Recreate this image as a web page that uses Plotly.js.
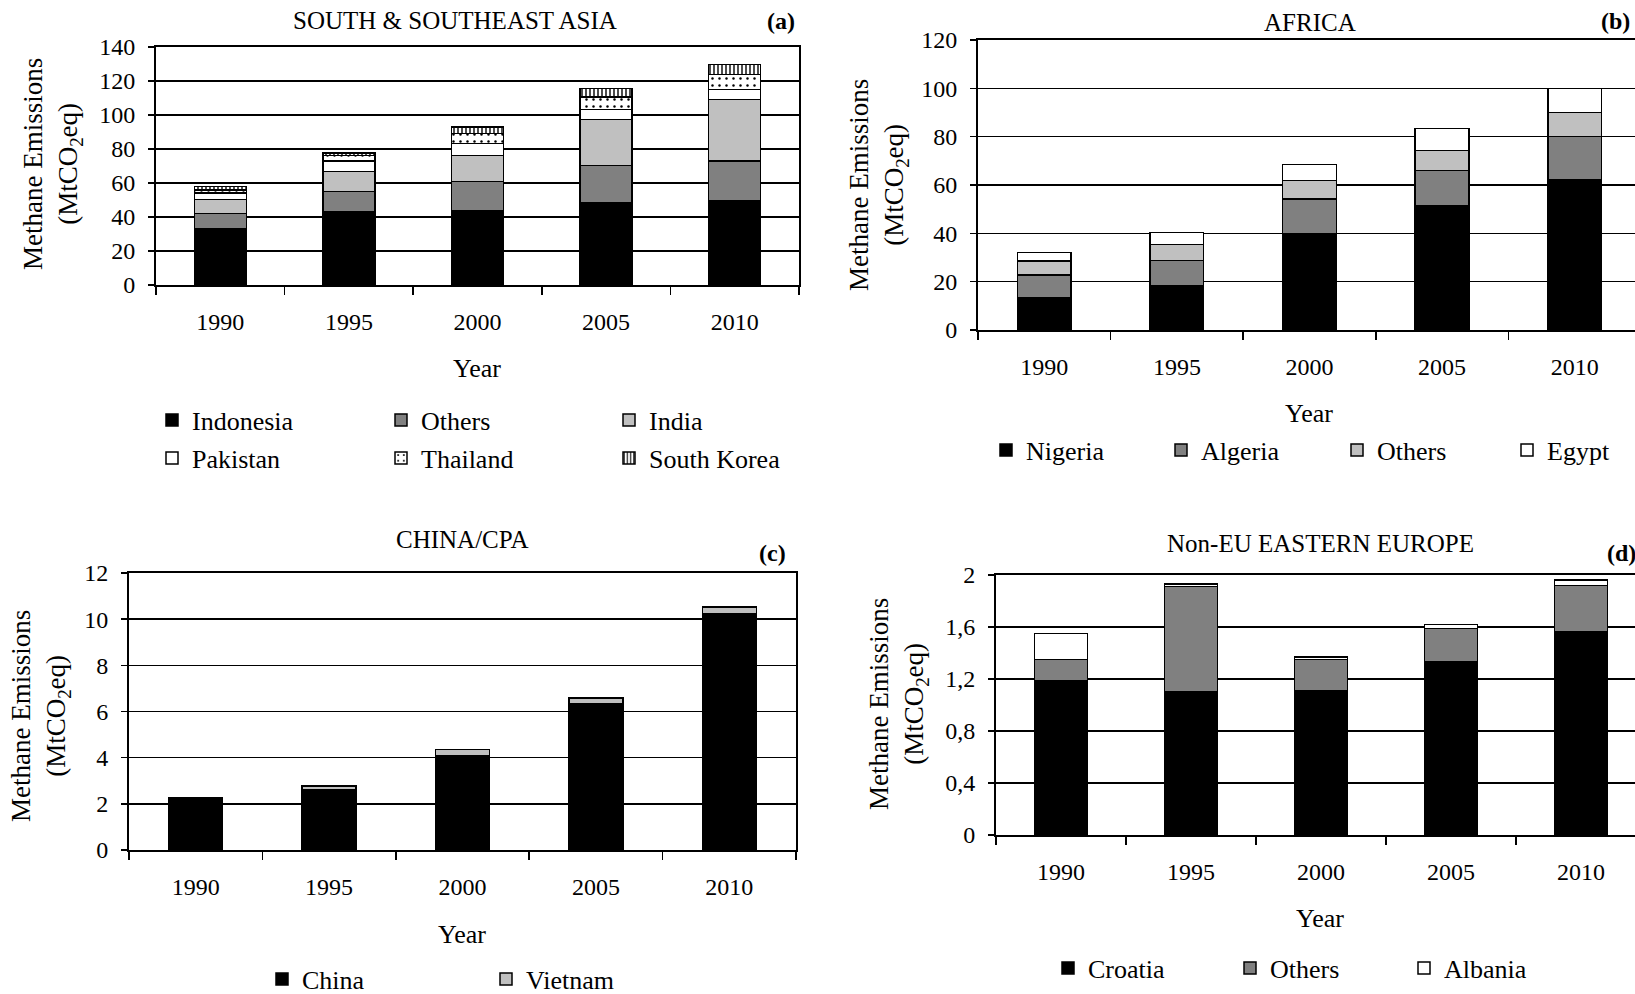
<!DOCTYPE html>
<html>
<head>
<meta charset="utf-8">
<script src="https://cdn.plot.ly/plotly-3.0.1.min.js"></script>
<style>html,body{margin:0;padding:0;background:#fff;overflow:hidden;}#chart{width:1635px;height:994px;}</style>
</head>
<body>
<div id="chart"></div>
<script>
// ---------- DATA ----------
const years = ['1990', '1995', '2000', '2005', '2010'];

// (a) South & Southeast Asia
const asiaIndonesia  = [33.0, 42.8, 43.8, 48.5, 49.5];
const asiaOthers     = [9.2, 12.2, 17.1, 21.8, 23.4];
const asiaIndia      = [8.1, 11.8, 15.3, 27.1, 36.3];
const asiaPakistan   = [3.7, 6.1, 7.1, 5.9, 5.9];
const asiaThailand   = [2.0, 3.3, 5.9, 7.3, 8.7];
const asiaSouthKorea = [2.0, 1.4, 3.7, 4.9, 5.9];

// (b) Africa
const afrNigeria = [13.4, 18.3, 39.7, 51.4, 62.3];
const afrAlgeria = [9.4, 10.4, 14.5, 14.5, 17.8];
const afrOthers  = [5.8, 6.7, 7.6, 8.3, 9.8];
const afrEgypt   = [3.5, 4.9, 6.6, 9.2, 10.1];

// (c) China/CPA
const cpaChina   = [2.25, 2.61, 4.10, 6.35, 10.22];
const cpaVietnam = [0.02, 0.17, 0.26, 0.23, 0.30];

// (d) Non-EU Eastern Europe
const eeCroatia = [1.19, 1.10, 1.11, 1.33, 1.56];
const eeOthers  = [0.16, 0.81, 0.24, 0.26, 0.36];
const eeAlbania = [0.20, 0.02, 0.02, 0.03, 0.04];

const ticksA = [0, 20, 40, 60, 80, 100, 120, 140];
const ticksB = [0, 20, 40, 60, 80, 100, 120];
const ticksC = [0, 2, 4, 6, 8, 10, 12];
const ticksD = [0, 0.4, 0.8, 1.2, 1.6, 2];
const ticksDText = ['0', '0,4', '0,8', '1,2', '1,6', '2'];

// ---------- LAYOUT HELPERS ----------
const W = 1635, H = 994;
const px = x => x / W;
const py = y => 1 - y / H;
const FONT = 'Liberation Serif, Times New Roman, serif';

const BLACK = '#000000', DARK = '#808080', LIGHT = '#c0c0c0', WHITE = '#ffffff';

function bar(name, y, xa, ya, legend, color, pattern) {
  const m = {color: color, line: {color: BLACK, width: 1.5}};
  if (pattern) m.pattern = pattern;
  return {type: 'bar', name: name, x: years, y: y, xaxis: xa, yaxis: ya,
          legend: legend, marker: m, hoverinfo: 'skip'};
}

const dotPat = {shape: '.', size: 7, solidity: 0.1, fgcolor: BLACK, bgcolor: WHITE, fillmode: 'replace'};
const vPat = {shape: '|', size: 4, solidity: 0.35, fgcolor: BLACK, bgcolor: WHITE, fillmode: 'replace'};

const traces = [
  bar('Indonesia', asiaIndonesia, 'x', 'y', 'legend', BLACK),
  bar('Others', asiaOthers, 'x', 'y', 'legend2', DARK),
  bar('India', asiaIndia, 'x', 'y', 'legend3', LIGHT),
  bar('Pakistan', asiaPakistan, 'x', 'y', 'legend4', WHITE),
  bar('Thailand', asiaThailand, 'x', 'y', 'legend5', WHITE, dotPat),
  bar('South Korea', asiaSouthKorea, 'x', 'y', 'legend6', WHITE, vPat),

  bar('Nigeria', afrNigeria, 'x2', 'y2', 'legend7', BLACK),
  bar('Algeria', afrAlgeria, 'x2', 'y2', 'legend8', DARK),
  bar('Others', afrOthers, 'x2', 'y2', 'legend9', LIGHT),
  bar('Egypt', afrEgypt, 'x2', 'y2', 'legend10', WHITE),

  bar('China', cpaChina, 'x3', 'y3', 'legend11', BLACK),
  bar('Vietnam', cpaVietnam, 'x3', 'y3', 'legend12', LIGHT),

  bar('Croatia', eeCroatia, 'x4', 'y4', 'legend13', BLACK),
  bar('Others', eeOthers, 'x4', 'y4', 'legend14', DARK),
  bar('Albania', eeAlbania, 'x4', 'y4', 'legend15', WHITE)
];

function xaxis(l, r, range, anchor) {
  return {domain: [px(l), px(r)], anchor: anchor, type: 'category', range: range,
          showline: true, linecolor: BLACK, linewidth: 2, mirror: true,
          ticks: 'outside', tickson: 'boundaries', ticklen: 8, tickwidth: 1.5, tickcolor: BLACK,
          ticklabelstandoff: 14, automargin: false,
          showgrid: false, zeroline: false, fixedrange: true,
          tickfont: {family: FONT, size: 24, color: BLACK}};
}
function yaxis(top, bottom, range, tv, tt, anchor, mirror) {
  const a = {domain: [py(bottom), py(top)], anchor: anchor, range: range,
          tickmode: 'array', tickvals: tv,
          showline: true, linecolor: BLACK, linewidth: 2, mirror: mirror,
          ticks: 'outside', ticklen: 6, tickwidth: 1.5, tickcolor: BLACK,
          ticklabelstandoff: 8, automargin: false,
          showgrid: true, gridcolor: BLACK, gridwidth: 1.5, zeroline: false, fixedrange: true,
          tickfont: {family: FONT, size: 24, color: BLACK}};
  if (tt) a.ticktext = tt;
  return a;
}

function leg(symX, rowY) {
  return {x: px(symX - 22), xanchor: 'left', y: py(rowY), yanchor: 'middle',
          orientation: 'h', bgcolor: 'rgba(0,0,0,0)', borderwidth: 0,
          traceorder: 'normal', itemclick: false, itemdoubleclick: false,
          font: {family: FONT, size: 26, color: BLACK}};
}

function ann(text, x, y, size, opts) {
  return Object.assign({text: text, x: px(x), y: py(y), xref: 'paper', yref: 'paper',
          xanchor: 'center', yanchor: 'middle', showarrow: false,
          font: {family: FONT, size: size, color: BLACK}}, opts || {});
}

const yTitle = 'Methane Emissions<br>(MtCO<sub>2</sub>eq)';

const layout = {
  width: W, height: H,
  margin: {l: 0, r: 0, t: 0, b: 0, pad: 0, autoexpand: false},
  paper_bgcolor: WHITE, plot_bgcolor: WHITE,
  barmode: 'stack', bargap: 0.595,
  showlegend: true,
  xaxis:  xaxis(156, 799, [-0.5, 4.5], 'y'),
  yaxis:  yaxis(47, 285, [0, 140], ticksA, null, 'x', true),
  xaxis2: xaxis(978, 1635, [-0.5, 4.455], 'y2'),
  yaxis2: yaxis(40, 330, [0, 120], ticksB, null, 'x2', false),
  xaxis3: xaxis(129, 796, [-0.5, 4.5], 'y3'),
  yaxis3: yaxis(573, 850, [0, 12], ticksC, null, 'x3', true),
  xaxis4: xaxis(996, 1635, [-0.5, 4.415], 'y4'),
  yaxis4: yaxis(575, 835, [0, 2], ticksD, ticksDText, 'x4', false),

  legend:   leg(174, 420),
  legend2:  leg(403, 420),
  legend3:  leg(631, 420),
  legend4:  leg(174, 458),
  legend5:  leg(403, 458),
  legend6:  leg(631, 458),
  legend7:  leg(1008, 450),
  legend8:  leg(1183, 450),
  legend9:  leg(1359, 450),
  legend10: leg(1529, 450),
  legend11: leg(284, 979),
  legend12: leg(508, 979),
  legend13: leg(1070, 968),
  legend14: leg(1252, 968),
  legend15: leg(1426, 968),

  annotations: [
    ann('SOUTH &amp; SOUTHEAST ASIA', 455, 21, 25),
    ann('<b>(a)</b>', 781, 21, 24),
    ann('AFRICA', 1310, 23, 25),
    ann('<b>(b)</b>', 1615, 21, 24),
    ann('CHINA/CPA', 462, 539, 25),
    ann('<b>(c)</b>', 772, 553, 24),
    ann('Non-EU EASTERN EUROPE', 1320, 543, 25),
    ann('<b>(d)</b>', 1621, 553, 24),

    ann(yTitle, 53, 164, 27, {textangle: -90}),
    ann(yTitle, 879, 185, 27, {textangle: -90}),
    ann(yTitle, 40, 716, 27, {textangle: -90}),
    ann(yTitle, 898, 704, 27, {textangle: -90}),

    ann('Year', 477, 368, 26),
    ann('Year', 1309, 414, 26),
    ann('Year', 462, 934, 26),
    ann('Year', 1320, 918, 26)
  ]
};

Plotly.newPlot('chart', traces, layout, {displayModeBar: false, staticPlot: true});
</script>
</body>
</html>
